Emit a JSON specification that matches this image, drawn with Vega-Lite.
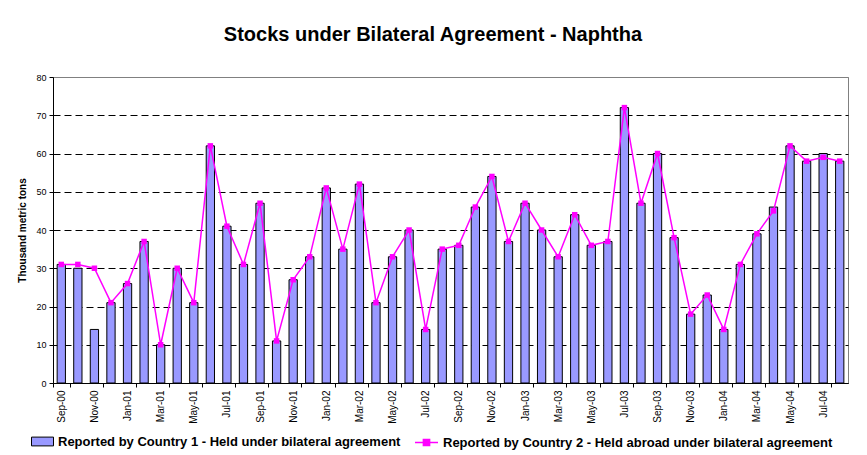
{
  "$schema": "https://vega.github.io/schema/vega-lite/v6.json",
  "width": 795,
  "height": 306,
  "autosize": {"type": "none"},
  "padding": {"left": 53, "top": 77, "right": 19, "bottom": 72},
  "background": "white",
  "config": {
    "view": {"stroke": "#808080", "strokeWidth": 1},
    "font": "Liberation Sans"
  },
  "title": {"text": "Stocks under Bilateral Agreement - Naphtha", "font": "Liberation Sans", "fontSize": 20, "fontWeight": "bold", "color": "black", "anchor": "middle", "frame": "bounds", "offset": 28},
  "data": {"values": [
    {"month": "Sep-00", "c1": 31, "c2": 31},
    {"month": "Oct-00", "c1": 30, "c2": 31},
    {"month": "Nov-00", "c1": 14, "c2": 30},
    {"month": "Dec-00", "c1": 21, "c2": 21},
    {"month": "Jan-01", "c1": 26, "c2": 26},
    {"month": "Feb-01", "c1": 37, "c2": 37},
    {"month": "Mar-01", "c1": 10, "c2": 10},
    {"month": "Apr-01", "c1": 30, "c2": 30},
    {"month": "May-01", "c1": 21, "c2": 21},
    {"month": "Jun-01", "c1": 62, "c2": 62},
    {"month": "Jul-01", "c1": 41, "c2": 41},
    {"month": "Aug-01", "c1": 31, "c2": 31},
    {"month": "Sep-01", "c1": 47, "c2": 47},
    {"month": "Oct-01", "c1": 11, "c2": 11},
    {"month": "Nov-01", "c1": 27, "c2": 27},
    {"month": "Dec-01", "c1": 33, "c2": 33},
    {"month": "Jan-02", "c1": 51, "c2": 51},
    {"month": "Feb-02", "c1": 35, "c2": 35},
    {"month": "Mar-02", "c1": 52, "c2": 52},
    {"month": "Apr-02", "c1": 21, "c2": 21},
    {"month": "May-02", "c1": 33, "c2": 33},
    {"month": "Jun-02", "c1": 40, "c2": 40},
    {"month": "Jul-02", "c1": 14, "c2": 14},
    {"month": "Aug-02", "c1": 35, "c2": 35},
    {"month": "Sep-02", "c1": 36, "c2": 36},
    {"month": "Oct-02", "c1": 46, "c2": 46},
    {"month": "Nov-02", "c1": 54, "c2": 54},
    {"month": "Dec-02", "c1": 37, "c2": 37},
    {"month": "Jan-03", "c1": 47, "c2": 47},
    {"month": "Feb-03", "c1": 40, "c2": 40},
    {"month": "Mar-03", "c1": 33, "c2": 33},
    {"month": "Apr-03", "c1": 44, "c2": 44},
    {"month": "May-03", "c1": 36, "c2": 36},
    {"month": "Jun-03", "c1": 37, "c2": 37},
    {"month": "Jul-03", "c1": 72, "c2": 72},
    {"month": "Aug-03", "c1": 47, "c2": 47},
    {"month": "Sep-03", "c1": 60, "c2": 60},
    {"month": "Oct-03", "c1": 38, "c2": 38},
    {"month": "Nov-03", "c1": 18, "c2": 18},
    {"month": "Dec-03", "c1": 23, "c2": 23},
    {"month": "Jan-04", "c1": 14, "c2": 14},
    {"month": "Feb-04", "c1": 31, "c2": 31},
    {"month": "Mar-04", "c1": 39, "c2": 39},
    {"month": "Apr-04", "c1": 46, "c2": 45},
    {"month": "May-04", "c1": 62, "c2": 62},
    {"month": "Jun-04", "c1": 58, "c2": 58},
    {"month": "Jul-04", "c1": 60, "c2": 59},
    {"month": "Aug-04", "c1": 58, "c2": 58}
  ]},
  "encoding": {
    "x": {
      "field": "month", "type": "ordinal", "sort": null,
      "scale": {"paddingInner": 0, "paddingOuter": 0},
      "axis": {
        "title": null,
        "values": ["Sep-00","Nov-00","Jan-01","Mar-01","May-01","Jul-01","Sep-01","Nov-01","Jan-02","Mar-02","May-02","Jul-02","Sep-02","Nov-02","Jan-03","Mar-03","May-03","Jul-03","Sep-03","Nov-03","Jan-04","Mar-04","May-04","Jul-04"],
        "labelAngle": -90, "labelFontSize": 10, "labelColor": "black", "labelFont": "Liberation Sans",
        "labelPadding": 3, "tickBand": "extent", "tickColor": "black", "tickSize": 4,
        "domainColor": "black", "domainWidth": 1, "grid": false
      }
    }
  },
  "layer": [
    {
      "mark": {"type": "bar", "width": {"band": 0.5}, "stroke": "black", "strokeWidth": 1},
      "encoding": {
        "y": {
          "field": "c1", "type": "quantitative",
          "scale": {"domain": [0, 80]},
          "axis": {
            "values": [0,10,20,30,40,50,60,70,80],
            "title": "Thousand metric tons", "titleFontSize": 10, "titleFontWeight": "bold", "titleColor": "black", "titlePadding": 8,
            "labelFontSize": 9, "labelColor": "black", "labelPadding": 3,
            "tickColor": "black", "tickSize": 4, "domainColor": "black",
            "grid": true, "gridDash": [7, 4], "gridWidth": 1,
            "gridColor": {"condition": {"test": "datum.value == 80", "value": "#808080"}, "value": "black"}
          }
        },
        "fill": {
          "datum": "Reported by Country 1 - Held under bilateral agreement",
          "scale": {"range": ["#9999ff"]},
          "legend": {
            "title": null, "orient": "none", "legendX": -22, "legendY": 353, "padding": 0,
            "symbolType": "M-1,-0.4H1V0.4H-1Z", "symbolSize": 484, "symbolStrokeColor": "black", "symbolStrokeWidth": 1,
            "labelFontSize": 13, "labelFontWeight": "bold", "labelColor": "black", "labelLimit": 600, "labelOffset": 4
          }
        }
      }
    },
    {
      "mark": {"type": "line", "strokeWidth": 1.5},
      "encoding": {
        "y": {
          "field": "c2", "type": "quantitative",
          "axis": {
            "values": [0,10,20,30,40,50,60,70,80],
            "title": "Thousand metric tons", "titleFontSize": 10, "titleFontWeight": "bold", "titleColor": "black", "titlePadding": 8,
            "labelFontSize": 9, "labelColor": "black", "labelPadding": 3,
            "tickColor": "black", "tickSize": 4, "domainColor": "black",
            "grid": true, "gridDash": [7, 4], "gridWidth": 1,
            "gridColor": {"condition": {"test": "datum.value == 80", "value": "#808080"}, "value": "black"}
          }
        },
        "stroke": {
          "datum": "Reported by Country 2 - Held abroad under bilateral agreement",
          "scale": {"range": ["#ff00ff"]},
          "legend": {
            "title": null, "orient": "none", "legendX": 361, "legendY": 353, "padding": 0,
            "symbolType": "M-1,0H1M-0.27,-0.27H0.27V0.27H-0.27Z", "symbolSize": 529, "symbolFillColor": "#ff00ff", "symbolStrokeWidth": 1.5,
            "labelFontSize": 13, "labelFontWeight": "bold", "labelColor": "black", "labelLimit": 600, "labelOffset": 4
          }
        }
      }
    },
    {
      "mark": {"type": "point", "shape": "square", "filled": true, "size": 30, "color": "#ff00ff", "opacity": 1},
      "encoding": {
        "y": {
          "field": "c2", "type": "quantitative",
          "axis": {
            "values": [0,10,20,30,40,50,60,70,80],
            "title": "Thousand metric tons", "titleFontSize": 10, "titleFontWeight": "bold", "titleColor": "black", "titlePadding": 8,
            "labelFontSize": 9, "labelColor": "black", "labelPadding": 3,
            "tickColor": "black", "tickSize": 4, "domainColor": "black",
            "grid": true, "gridDash": [7, 4], "gridWidth": 1,
            "gridColor": {"condition": {"test": "datum.value == 80", "value": "#808080"}, "value": "black"}
          }
        }
      }
    }
  ]
}
